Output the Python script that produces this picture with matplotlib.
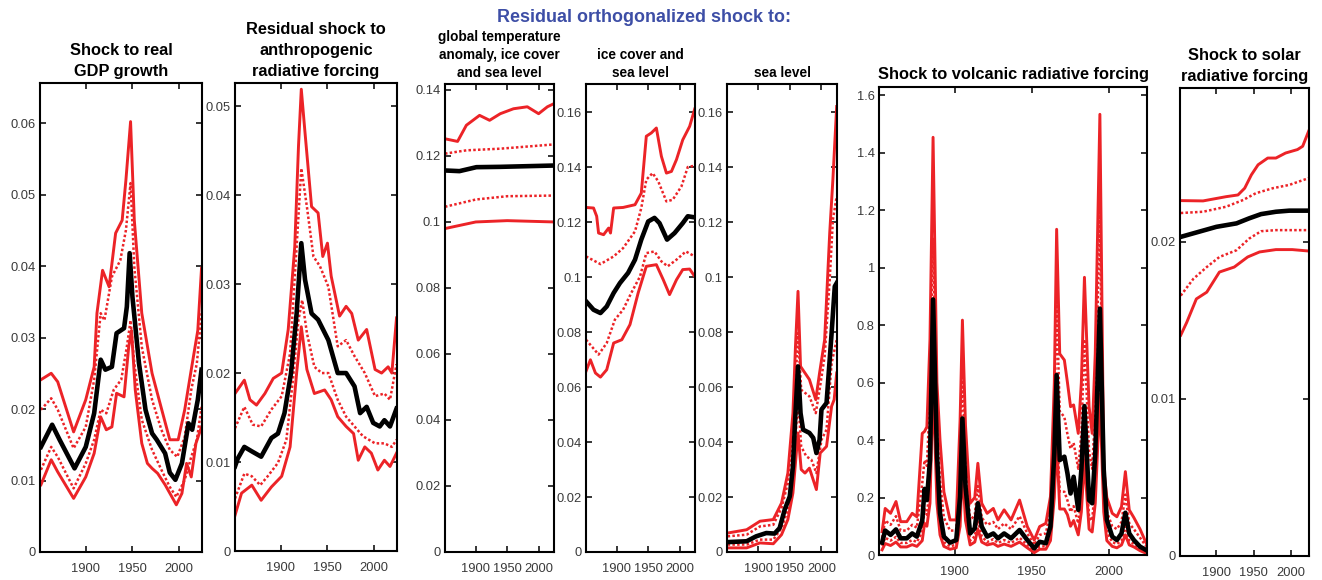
import matplotlib
matplotlib.use("Agg")
import matplotlib.pyplot as plt
from matplotlib.ticker import FuncFormatter

plt.rcParams["font.family"] = ["Liberation Sans", "DejaVu Sans"]

RED, BLACK, BLUE = "#ec2327", "#000000", "#3d4ea6"

# ---- shock to real GDP growth: (year, value) for median, 68% and 90% bands
gdp_med = [(1852, 0.0147), (1864, 0.0178), (1872, 0.0157), (1888, 0.0117), (1900, 0.0147),
           (1909, 0.0194), (1916, 0.0269), (1921, 0.0255), (1928, 0.0259), (1933, 0.0306),
           (1941, 0.0313), (1944, 0.0343), (1947, 0.0418), (1950, 0.0357), (1957, 0.0264),
           (1964, 0.0199), (1971, 0.0166), (1976, 0.0157), (1985, 0.0138), (1990, 0.0111),
           (1996, 0.0101), (2003, 0.0124), (2010, 0.0180), (2014, 0.0171), (2020, 0.0213),
           (2024, 0.0255)]
gdp_hi90 = [(1852, 0.0241), (1863, 0.0250), (1870, 0.0238), (1887, 0.0168), (1900, 0.0213),
            (1909, 0.0259), (1912, 0.0334), (1918, 0.0394), (1925, 0.0371), (1932, 0.0446),
            (1939, 0.0464), (1943, 0.0520), (1948, 0.0602), (1952, 0.0464), (1960, 0.0334),
            (1971, 0.0250), (1981, 0.0201), (1990, 0.0157), (1999, 0.0157), (2006, 0.0199),
            (2013, 0.0255), (2020, 0.0310), (2024, 0.0397)]
gdp_hi68 = [(1852, 0.0199), (1863, 0.0215), (1870, 0.0199), (1887, 0.0145), (1900, 0.0175),
            (1909, 0.0241), (1916, 0.0334), (1920, 0.0324), (1928, 0.0385), (1937, 0.0408),
            (1943, 0.0450), (1948, 0.0516), (1952, 0.0399), (1960, 0.0287), (1971, 0.0213),
            (1981, 0.0171), (1990, 0.0143), (1998, 0.0133), (2006, 0.0161), (2013, 0.0227),
            (2019, 0.0264), (2024, 0.0334)]
gdp_lo68 = [(1852, 0.0115), (1863, 0.0147), (1870, 0.0133), (1887, 0.0089), (1900, 0.0124),
            (1909, 0.0157), (1916, 0.0199), (1922, 0.0194), (1930, 0.0227), (1938, 0.0241),
            (1944, 0.0287), (1948, 0.0324), (1952, 0.0264), (1960, 0.0185), (1971, 0.0143),
            (1981, 0.0115), (1990, 0.0091), (1997, 0.0077), (2006, 0.0101), (2013, 0.0133),
            (2019, 0.0157), (2024, 0.0203)]
gdp_lo90 = [(1852, 0.0094), (1863, 0.0129), (1870, 0.0112), (1887, 0.0075), (1900, 0.0105),
            (1909, 0.0138), (1916, 0.0189), (1922, 0.0171), (1928, 0.0175), (1933, 0.0222),
            (1941, 0.0217), (1946, 0.0287), (1949, 0.0310), (1953, 0.0227), (1960, 0.0152),
            (1966, 0.0124), (1971, 0.0117), (1977, 0.0110), (1985, 0.0094), (1997, 0.0066),
            (2003, 0.0082), (2008, 0.0124), (2013, 0.0105), (2018, 0.0152), (2024, 0.0175)]

# ---- residual shock to anthropogenic radiative forcing
anth_med = [(1851, 0.0095), (1854, 0.0104), (1861, 0.0117), (1869, 0.0112), (1879, 0.0106),
            (1890, 0.0127), (1897, 0.0132), (1904, 0.0155), (1911, 0.0200), (1917, 0.0267),
            (1922, 0.0346), (1926, 0.0305), (1933, 0.0267), (1940, 0.0260), (1951, 0.0237),
            (1961, 0.0200), (1970, 0.0200), (1979, 0.0185), (1985, 0.0155), (1992, 0.0162),
            (1999, 0.0144), (2006, 0.0140), (2011, 0.0147), (2017, 0.0140), (2024, 0.0160)]
anth_hi90 = [(1851, 0.0177), (1861, 0.0192), (1867, 0.0170), (1874, 0.0164), (1883, 0.0177),
             (1892, 0.0194), (1901, 0.0200), (1908, 0.0249), (1915, 0.0342), (1919, 0.0455),
             (1922, 0.0519), (1926, 0.0470), (1933, 0.0387), (1940, 0.0380), (1945, 0.0331),
             (1950, 0.0346), (1954, 0.0309), (1963, 0.0264), (1970, 0.0275), (1976, 0.0267),
             (1983, 0.0237), (1992, 0.0249), (2001, 0.0204), (2008, 0.0200), (2015, 0.0207),
             (2019, 0.0200), (2024, 0.0262)]
anth_hi68 = [(1851, 0.0138), (1861, 0.0162), (1870, 0.0142), (1879, 0.0140), (1890, 0.0159),
             (1901, 0.0174), (1910, 0.0222), (1917, 0.0342), (1922, 0.0430), (1928, 0.0387),
             (1935, 0.0331), (1942, 0.0320), (1951, 0.0297), (1961, 0.0230), (1970, 0.0237),
             (1979, 0.0219), (1990, 0.0200), (2001, 0.0174), (2011, 0.0177), (2017, 0.0170),
             (2024, 0.0210)]
anth_lo68 = [(1851, 0.0059), (1861, 0.0087), (1869, 0.0084), (1878, 0.0074), (1886, 0.0084),
             (1897, 0.0099), (1906, 0.0125), (1913, 0.0192), (1919, 0.0260), (1923, 0.0282),
             (1928, 0.0245), (1936, 0.0207), (1944, 0.0200), (1951, 0.0200), (1961, 0.0170),
             (1970, 0.0151), (1979, 0.0140), (1988, 0.0129), (2001, 0.0121), (2011, 0.0121),
             (2019, 0.0117), (2024, 0.0125)]
anth_lo90 = [(1851, 0.0040), (1858, 0.0065), (1869, 0.0074), (1879, 0.0057), (1890, 0.0072),
             (1901, 0.0084), (1910, 0.0117), (1917, 0.0200), (1922, 0.0252), (1928, 0.0204),
             (1936, 0.0177), (1947, 0.0181), (1954, 0.0170), (1961, 0.0151), (1970, 0.0140),
             (1978, 0.0132), (1983, 0.0102), (1990, 0.0117), (1997, 0.0110), (2004, 0.0091),
             (2011, 0.0102), (2017, 0.0095), (2024, 0.0110)]

# ---- residual orthogonalized shock to temperature, ice cover and sea level
temp_med = [(1851, 0.1156), (1874, 0.1154), (1901, 0.1166), (1939, 0.1167), (2025, 0.1171)]
temp_hi90 = [(1851, 0.1252), (1871, 0.1244), (1885, 0.1293), (1906, 0.1323), (1922, 0.1308),
             (1939, 0.1328), (1960, 0.1343), (1982, 0.1349), (2000, 0.1328), (2014, 0.1349),
             (2025, 0.1359)]
temp_hi68 = [(1851, 0.1207), (1885, 0.1217), (1939, 0.1222), (2025, 0.1235)]
temp_lo68 = [(1851, 0.1046), (1900, 0.1068), (1950, 0.1078), (2025, 0.1080)]
temp_lo90 = [(1851, 0.0980), (1900, 0.1000), (1950, 0.1004), (2025, 0.1000)]

# ---- residual orthogonalized shock to ice cover and sea level
ice_med = [(1851, 0.0912), (1863, 0.0881), (1874, 0.0869), (1884, 0.0893), (1895, 0.0942),
           (1905, 0.0978), (1918, 0.1015), (1929, 0.1063), (1939, 0.1136), (1950, 0.1202),
           (1960, 0.1215), (1968, 0.1196), (1980, 0.1136), (1992, 0.1160), (2005, 0.1196),
           (2013, 0.1221), (2024, 0.1217)]
ice_hi90 = [(1851, 0.1253), (1863, 0.1251), (1868, 0.1221), (1871, 0.1160), (1879, 0.1154),
            (1887, 0.1178), (1890, 0.1160), (1895, 0.1251), (1910, 0.1253), (1929, 0.1263),
            (1939, 0.1305), (1947, 0.1512), (1955, 0.1524), (1963, 0.1542), (1971, 0.1439),
            (1979, 0.1378), (1987, 0.1384), (1995, 0.1427), (2005, 0.1499), (2016, 0.1548),
            (2024, 0.1611)]
ice_hi68 = [(1851, 0.1075), (1874, 0.1047), (1895, 0.1075), (1910, 0.1105), (1929, 0.1166),
            (1939, 0.1251), (1947, 0.1354), (1957, 0.1378), (1966, 0.1348), (1979, 0.1275),
            (1989, 0.1281), (2003, 0.1330), (2013, 0.1400), (2024, 0.1405)]
ice_lo68 = [(1851, 0.0772), (1860, 0.0748), (1871, 0.0718), (1884, 0.0760), (1897, 0.0845),
            (1910, 0.0881), (1923, 0.0942), (1937, 0.1002), (1947, 0.1087), (1960, 0.1093),
            (1971, 0.1057), (1981, 0.1039), (1995, 0.1063), (2010, 0.1093), (2024, 0.1075)]
ice_lo90 = [(1851, 0.0657), (1858, 0.0699), (1866, 0.0651), (1874, 0.0636), (1884, 0.0663),
            (1895, 0.0760), (1908, 0.0772), (1921, 0.0827), (1934, 0.0942), (1947, 0.1039),
            (1963, 0.1045), (1974, 0.0990), (1984, 0.0936), (1995, 0.0990), (2005, 0.1027),
            (2016, 0.1029), (2024, 0.1002)]

# ---- residual orthogonalized shock to sea level
sea_med = [(1852, 0.0036), (1882, 0.0039), (1897, 0.0057), (1913, 0.0069), (1926, 0.0067),
           (1934, 0.0087), (1942, 0.0154), (1950, 0.0202), (1955, 0.0312), (1959, 0.0505),
           (1963, 0.0675), (1967, 0.0505), (1971, 0.0445), (1981, 0.0433), (1987, 0.0415),
           (1992, 0.0360), (1997, 0.0408), (2000, 0.0518), (2008, 0.0542), (2016, 0.0796),
           (2021, 0.0966), (2024, 0.0978)]
sea_hi90 = [(1852, 0.0069), (1882, 0.0081), (1903, 0.0112), (1924, 0.0118), (1937, 0.0178),
            (1947, 0.0287), (1955, 0.0505), (1959, 0.0748), (1963, 0.0948), (1967, 0.0675),
            (1974, 0.0651), (1981, 0.0627), (1991, 0.0554), (1997, 0.0651), (2005, 0.0772),
            (2013, 0.1160), (2018, 0.1354), (2024, 0.1620)]
sea_hi68 = [(1852, 0.0057), (1882, 0.0063), (1903, 0.0093), (1924, 0.0099), (1937, 0.0160),
            (1947, 0.0251), (1955, 0.0433), (1963, 0.0796), (1968, 0.0590), (1981, 0.0566),
            (1991, 0.0505), (1997, 0.0590), (2005, 0.0711), (2013, 0.0990), (2018, 0.1208),
            (2024, 0.1293)]
sea_lo68 = [(1852, 0.0027), (1882, 0.0027), (1903, 0.0045), (1924, 0.0045), (1937, 0.0087),
            (1947, 0.0154), (1955, 0.0263), (1963, 0.0566), (1968, 0.0384), (1976, 0.0348),
            (1984, 0.0336), (1992, 0.0287), (2000, 0.0408), (2008, 0.0445), (2016, 0.0687),
            (2024, 0.0772)]
sea_lo90 = [(1852, 0.0015), (1882, 0.0015), (1903, 0.0033), (1924, 0.0030), (1937, 0.0063),
            (1947, 0.0118), (1955, 0.0215), (1963, 0.0433), (1968, 0.0300), (1974, 0.0287),
            (1981, 0.0305), (1992, 0.0227), (1998, 0.0360), (2008, 0.0384), (2016, 0.0530),
            (2020, 0.0554), (2024, 0.0651)]

# ---- shock to volcanic radiative forcing (one shared year grid)
volc_years = [1853, 1855, 1858.5, 1862, 1865, 1869, 1872.5, 1875.5, 1879, 1880.5, 1882, 1884,
              1886, 1888.5, 1890.5, 1893, 1897, 1901, 1903.5, 1905, 1907, 1910, 1913, 1915,
              1917.5, 1921, 1925, 1928, 1932, 1936.5, 1942, 1947, 1951.5, 1955, 1959, 1962,
              1964.5, 1966, 1968, 1971, 1973, 1975, 1977, 1980, 1982, 1984, 1987, 1989, 1991,
              1994, 1996.5, 1998.5, 2002, 2005, 2008, 2010.5, 2013, 2016, 2020, 2024]
volc_med = [0.043, 0.085, 0.070, 0.089, 0.058, 0.058, 0.075, 0.064, 0.120, 0.230, 0.191, 0.330,
            0.889, 0.354, 0.145, 0.064, 0.043, 0.052, 0.203, 0.475, 0.238, 0.075, 0.093, 0.180,
            0.099, 0.064, 0.075, 0.058, 0.075, 0.058, 0.087, 0.052, 0.023, 0.046, 0.041, 0.099,
            0.354, 0.626, 0.330, 0.342, 0.284, 0.214, 0.272, 0.157, 0.296, 0.518, 0.191, 0.180,
            0.354, 0.857, 0.296, 0.122, 0.064, 0.052, 0.075, 0.147, 0.075, 0.052, 0.029, 0.017]
volc_hi90 = [0.081, 0.162, 0.145, 0.186, 0.116, 0.116, 0.145, 0.133, 0.423, 0.430, 0.446, 0.750,
             1.453, 0.600, 0.400, 0.220, 0.122, 0.122, 0.470, 0.817, 0.450, 0.180, 0.200, 0.319,
             0.180, 0.145, 0.162, 0.122, 0.157, 0.122, 0.191, 0.099, 0.052, 0.099, 0.110, 0.203,
             0.600, 1.133, 0.700, 0.678, 0.600, 0.516, 0.522, 0.423, 0.600, 0.966, 0.516, 0.423,
             0.700, 1.533, 0.300, 0.200, 0.145, 0.133, 0.168, 0.290, 0.157, 0.130, 0.090, 0.041]
volc_hi68 = [0.060, 0.120, 0.105, 0.135, 0.085, 0.085, 0.105, 0.095, 0.250, 0.330, 0.310, 0.550,
             1.100, 0.450, 0.260, 0.130, 0.085, 0.085, 0.330, 0.650, 0.330, 0.120, 0.140, 0.240,
             0.130, 0.105, 0.115, 0.090, 0.110, 0.090, 0.135, 0.075, 0.035, 0.070, 0.075, 0.150,
             0.450, 0.880, 0.500, 0.480, 0.420, 0.370, 0.390, 0.300, 0.420, 0.750, 0.360, 0.300,
             0.500, 1.200, 0.200, 0.150, 0.100, 0.090, 0.115, 0.210, 0.110, 0.090, 0.060, 0.030]
volc_lo68 = [0.032, 0.060, 0.050, 0.063, 0.042, 0.042, 0.052, 0.045, 0.080, 0.160, 0.140, 0.240,
             0.700, 0.250, 0.100, 0.045, 0.030, 0.036, 0.140, 0.350, 0.170, 0.050, 0.065, 0.120,
             0.065, 0.045, 0.055, 0.042, 0.052, 0.042, 0.060, 0.035, 0.015, 0.030, 0.030, 0.070,
             0.250, 0.450, 0.220, 0.220, 0.190, 0.150, 0.170, 0.110, 0.200, 0.400, 0.130, 0.120,
             0.250, 0.650, 0.200, 0.080, 0.045, 0.038, 0.050, 0.100, 0.050, 0.038, 0.020, 0.012]
volc_lo90 = [0.018, 0.040, 0.033, 0.045, 0.028, 0.028, 0.036, 0.030, 0.050, 0.110, 0.100, 0.180,
             0.600, 0.180, 0.070, 0.030, 0.020, 0.025, 0.100, 0.300, 0.120, 0.035, 0.045, 0.090,
             0.045, 0.035, 0.040, 0.030, 0.038, 0.030, 0.045, 0.025, 0.008, 0.020, 0.020, 0.050,
             0.200, 0.400, 0.160, 0.160, 0.140, 0.100, 0.120, 0.070, 0.150, 0.330, 0.090, 0.080,
             0.180, 0.550, 0.150, 0.050, 0.030, 0.025, 0.035, 0.070, 0.035, 0.028, 0.015, 0.006]

# ---- shock to solar radiative forcing
sol_med = [(1852, 0.02032), (1873, 0.02060), (1900, 0.02096), (1927, 0.02118), (1944, 0.02150),
           (1960, 0.02177), (1980, 0.02192), (1998, 0.02199), (2024, 0.02199)]
sol_hi90 = [(1852, 0.02263), (1882, 0.02261), (1913, 0.02288), (1929, 0.02299), (1938, 0.02342),
            (1947, 0.02427), (1956, 0.02491), (1969, 0.02534), (1980, 0.02534), (1993, 0.02566),
            (2009, 0.02588), (2016, 0.02609), (2024, 0.02705)]
sol_hi68 = [(1852, 0.02184), (1882, 0.02192), (1913, 0.02224), (1936, 0.02267), (1953, 0.02310),
            (1976, 0.02342), (1998, 0.02363), (2024, 0.02406)]
sol_lo68 = [(1852, 0.01658), (1869, 0.01765), (1887, 0.01840), (1904, 0.01904), (1927, 0.01947),
            (1944, 0.02021), (1960, 0.02068), (1980, 0.02075), (2024, 0.02075)]
sol_lo90 = [(1852, 0.01406), (1860, 0.01487), (1873, 0.01637), (1887, 0.01680), (1904, 0.01808),
            (1924, 0.01840), (1942, 0.01904), (1958, 0.01936), (1980, 0.01951), (2002, 0.01951),
            (2024, 0.01942)]


def unzip(pairs):
    return [p[0] for p in pairs], [p[1] for p in pairs]


fig = plt.figure(figsize=(13.22, 5.80), dpi=100)
W, H = 1322, 580


def panel(x0, x1, y0, y1):
    return fig.add_axes([x0 / W, 1 - y1 / H, (x1 - x0) / W, (y1 - y0) / H])


fmt = FuncFormatter(lambda v, _: f"{round(v, 6):g}")


def draw(ax, series, ymax, yticks, title, tsize, tpad, tls):
    lo90, lo68, med, hi68, hi90 = series
    for (xs, ys) in (lo90, hi90):
        ax.plot(xs, ys, color=RED, lw=2.1, solid_joinstyle="round")
    for (xs, ys) in (lo68, hi68):
        ax.plot(xs, ys, color=RED, lw=1.8, ls=(0, (1, 0.9)))
    ax.plot(*med, color=BLACK, lw=3.3, solid_joinstyle="round")
    ax.set_xlim(1851, 2024.5)
    ax.set_ylim(0, ymax)
    ax.set_xticks([1900, 1950, 2000])
    ax.set_yticks(yticks)
    ax.yaxis.set_major_formatter(fmt)
    ax.tick_params(direction="in", length=4, width=1.1, top=True, right=True,
                   labelsize=9.3, labelcolor="#3a3a3a", pad=3)
    ax.tick_params(axis="x", pad=8)
    for s in ax.spines.values():
        s.set_linewidth(1.5)
    ax.set_title(title, fontsize=tsize, fontweight="bold", pad=tpad, linespacing=tls)


ax1 = panel(40, 202, 83, 552)
draw(ax1, [unzip(gdp_lo90), unzip(gdp_lo68), unzip(gdp_med), unzip(gdp_hi68), unzip(gdp_hi90)],
     0.0656, [0, 0.01, 0.02, 0.03, 0.04, 0.05, 0.06], "Shock to real\nGDP growth", 11.8, 5, 1.5)

ax2 = panel(235, 397, 83, 551)
draw(ax2, [unzip(anth_lo90), unzip(anth_lo68), unzip(anth_med), unzip(anth_hi68), unzip(anth_hi90)],
     0.0526, [0, 0.01, 0.02, 0.03, 0.04, 0.05],
     "Residual shock to\nanthropogenic\nradiative forcing", 11.8, 5, 1.5)

ax3 = panel(445, 554, 84, 552)
draw(ax3, [unzip(temp_lo90), unzip(temp_lo68), unzip(temp_med), unzip(temp_hi68), unzip(temp_hi90)],
     0.1418, [0, 0.02, 0.04, 0.06, 0.08, 0.1, 0.12, 0.14],
     "global temperature\nanomaly, ice cover\nand sea level", 9.8, 5, 1.38)

ax4 = panel(586, 695, 84, 552)
draw(ax4, [unzip(ice_lo90), unzip(ice_lo68), unzip(ice_med), unzip(ice_hi68), unzip(ice_hi90)],
     0.1702, [0, 0.02, 0.04, 0.06, 0.08, 0.1, 0.12, 0.14, 0.16],
     "ice cover and\nsea level", 9.8, 5, 1.38)

ax5 = panel(727, 837, 84, 552)
draw(ax5, [unzip(sea_lo90), unzip(sea_lo68), unzip(sea_med), unzip(sea_hi68), unzip(sea_hi90)],
     0.1702, [0, 0.02, 0.04, 0.06, 0.08, 0.1, 0.12, 0.14, 0.16], "sea level", 9.8, 5, 1.38)

ax6 = panel(879, 1147, 87, 555)
draw(ax6, [(volc_years, volc_lo90), (volc_years, volc_lo68), (volc_years, volc_med),
           (volc_years, volc_hi68), (volc_years, volc_hi90)],
     1.628, [0, 0.2, 0.4, 0.6, 0.8, 1.0, 1.2, 1.4, 1.6],
     "Shock to volcanic radiative forcing", 11.8, 6, 1.5)

ax7 = panel(1180, 1309, 88, 556)
draw(ax7, [unzip(sol_lo90), unzip(sol_lo68), unzip(sol_med), unzip(sol_hi68), unzip(sol_hi90)],
     0.0298, [0, 0.01, 0.02], "Shock to solar\nradiative forcing", 11.8, 5, 1.5)

fig.text(644 / W, 1 - 17 / H, "Residual orthogonalized shock to:", color=BLUE,
         fontsize=12.9, fontweight="bold", ha="center", va="center")

fig.savefig("out.png", dpi=100)
